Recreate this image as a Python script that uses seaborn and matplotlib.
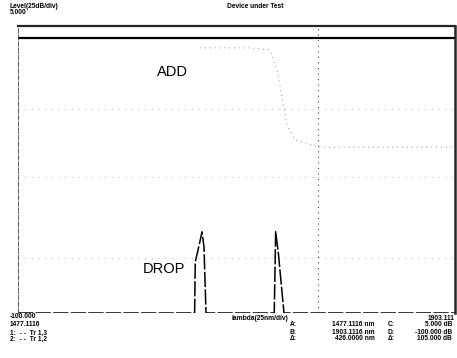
import numpy as np
import pandas as pd
import matplotlib
matplotlib.use('Agg')
import matplotlib.pyplot as plt
import seaborn as sns

# Spectrum values (wavelength in nm, level in dB)
wl_start = 1477.1116
wl_stop = 1903.1116
ref_level = 5.0
bottom_level = -100.0

# ADD port (through) trace - flat near the top
add_wl = [1477.1116, 1600.0, 1700.0, 1800.0, 1903.1116]
add_db = [0.6, 0.6, 0.6, 0.6, 0.6]

# faint dotted roll-off seen on the ADD side
roll_wl = [1654.5, 1703.3, 1722.8, 1729.6, 1733.5, 1736.4, 1739.3, 1747.1, 1771.5, 1903.1]
roll_db = [-3.0, -3.0, -3.8, -11.1, -18.8, -25.0, -31.2, -36.7, -39.3, -39.3]

# DROP port trace - noise floor with two dropped channels
drop_wl = [1477.1116, 1649.3, 1649.9, 1653.3, 1656.5, 1658.4, 1660.4,
           1726.9, 1728.3, 1730.9, 1736.4, 1903.1116]
drop_db = [-100.0, -100.0, -81.3, -75.8, -70.3, -75.8, -100.0,
           -100.0, -70.3, -78.1, -100.0, -100.0]

# faded graticule
grid_db = [-25.4, -50.2, -79.9]
marker_wl = 1769.5

add_df = pd.DataFrame({'wl': add_wl, 'db': add_db})
roll_df = pd.DataFrame({'wl': roll_wl, 'db': roll_db})
drop_df = pd.DataFrame({'wl': drop_wl, 'db': drop_db})

sns.set_style('white')
plt.rcParams['font.family'] = ['Liberation Sans Narrow', 'Liberation Sans', 'DejaVu Sans']
plt.rcParams['text.color'] = 'black'

fig = plt.figure(figsize=(4.57, 3.58), dpi=100)
ax = fig.add_axes([18 / 457, 1 - 313 / 358, 437 / 457, 287 / 358])

for lvl in grid_db:
    ax.axhline(lvl, color='#999999', lw=0.6, ls=(0, (1, 7)))
ax.axvline(marker_wl, color='#444444', lw=0.8, ls=(0, (1, 4)))

sns.lineplot(data=roll_df, x='wl', y='db', ax=ax, color='#888888', lw=0.7,
             linestyle=(0, (1, 4)), sort=False)
sns.lineplot(data=add_df, x='wl', y='db', ax=ax, color='black', lw=1.6, sort=False)
sns.lineplot(data=drop_df, x='wl', y='db', ax=ax, color='black', lw=1.1,
             linestyle=(0, (10, 1.5)), sort=False)

ax.set_xlim(wl_start, wl_stop)
ax.set_ylim(bottom_level, ref_level)
ax.set_xticks([])
ax.set_yticks([])
ax.set_xlabel('')
ax.set_ylabel('')
ax.spines['top'].set_linewidth(1.6)
ax.spines['right'].set_linewidth(1.8)
ax.spines['left'].set_linewidth(0.6)
ax.spines['left'].set_linestyle((0, (6, 2)))
ax.spines['left'].set_color('#444444')
ax.spines['bottom'].set_visible(False)

ax.text(0.354, 0.84, 'ADD', transform=ax.transAxes, fontsize=10.5, ha='center', va='center')
ax.text(0.335, 0.155, 'DROP', transform=ax.transAxes, fontsize=10.5, ha='center', va='center')

small = dict(fontsize=4.8, fontweight='bold', color='black')
fig.text(10 / 457, 1 - 7 / 358, 'Level(25dB/div)', va='center', **small)
fig.text(10 / 457, 1 - 13 / 358, '5.000', va='center', **small)
fig.text(255 / 457, 1 - 7 / 358, 'Device under Test', ha='center', va='center', **small)

fig.text(10 / 457, 1 - 317 / 358, '-100.000', va='center', **small)
fig.text(10 / 457, 1 - 324 / 358, '1477.1116', va='center', **small)
fig.text(10 / 457, 1 - 333 / 358, '1:  - -  Tr 1,3', va='center', **small)
fig.text(10 / 457, 1 - 339 / 358, '2:  - -  Tr 1,2', va='center', **small)
fig.text(260 / 457, 1 - 318 / 358, 'lambda(25nm/div)', ha='center', va='center', **small)
fig.text(454 / 457, 1 - 318 / 358, '1903.111', ha='right', va='center', **small)

rows = [('A:', '1477.1116 nm', 'C:', '5.000 dB'),
        ('B:', '1903.1116 nm', 'D:', '-100.000 dB'),
        ('Δ:', '426.0000 nm', 'Δ:', '105.000 dB')]
for i, (k1, v1, k2, v2) in enumerate(rows):
    yy = 1 - (325 + 7 * i) / 358
    fig.text(290 / 457, yy, k1, va='center', **small)
    fig.text(375 / 457, yy, v1, ha='right', va='center', **small)
    fig.text(388 / 457, yy, k2, va='center', **small)
    fig.text(452 / 457, yy, v2, ha='right', va='center', **small)

fig.savefig('out.png', dpi=100)
